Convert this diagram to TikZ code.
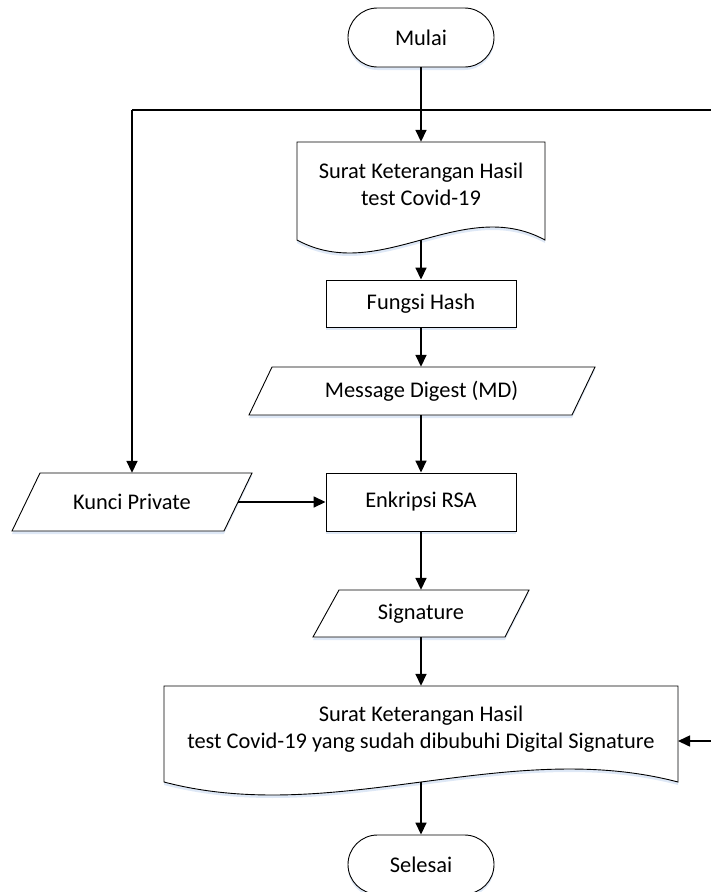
\documentclass[tikz,border=0pt]{standalone}
\usepackage{fontspec}
\setmainfont{Carlito}
\usetikzlibrary{arrows.meta,shadows}
\definecolor{shadowblue}{RGB}{222,232,246}
\begin{document}
\begin{tikzpicture}[x=1pt,y=-1pt,
  shp/.style={draw, line width=0.9pt, fill=white, line join=miter,
    drop shadow={shadow xshift=0pt, shadow yshift=-3pt, fill=shadowblue, opacity=1}},
  conn/.style={line width=1.6pt},
  arr/.style={conn, -{Triangle[length=12pt,width=11pt]}},
  txt/.style={font=\fontsize{22.4}{26.5}\selectfont, align=center, inner sep=0pt},
  term/.style={shp, txt, rounded corners=29.5pt, minimum width=146pt, minimum height=59pt},
  proc/.style={shp, txt, minimum width=190pt},
  lbl/.style={txt, rectangle}]
\useasboundingbox (0,0) rectangle (711,892);

% shapes drawn directly
\draw[shp] (297,142) -- (545,142) -- (545,240) .. controls (462,195) and (380,285) .. (297,240) -- cycle;
\draw[shp] (272,367) -- (595,367) -- (572,415) -- (249,415) -- cycle;
\draw[shp] (40,473) -- (252,473) -- (224,531) -- (12,531) -- cycle;
\draw[shp] (339,590) -- (529,590) -- (505,637) -- (313,637) -- cycle;
\draw[shp] (164,686) -- (678,686) -- (678,782) .. controls (507,737) and (335,827) .. (164,782) -- cycle;

% nodes
\node[term] (start) at (421,37.5) {Mulai};
\node[lbl, minimum width=248pt, minimum height=85pt] (d1) at (421,184.5) {Surat Keterangan Hasil\\test Covid-19};
\node[proc, minimum height=47pt] (fh) at (421,303.5) {Fungsi Hash};
\node[lbl, minimum width=323pt, minimum height=48pt] (md) at (421.5,391) {Message Digest (MD)};
\node[lbl, minimum width=212pt, minimum height=58pt] (kp) at (132,502) {Kunci Private};
\node[proc, minimum height=58pt] (enk) at (421,502) {Enkripsi RSA};
\node[lbl, minimum width=191pt, minimum height=47pt] (sig) at (421,613.5) {Signature};
\node[lbl, minimum width=514pt, minimum height=86pt] (d2) at (421,729) {Surat Keterangan Hasil\\test Covid-19 yang sudah dibubuhi Digital Signature};
\node[term] (stop) at (421,864.5) {Selesai};

% helper coordinates
\coordinate (d1b) at (421,240);
\coordinate (d2b) at (421,782);
\coordinate (jl) at (132,110);
\coordinate (jr) at (726,110);
\coordinate (jd) at (726,741);
\coordinate (d2e) at (678,741);

% connectors
\draw[arr] (start.south) -- (d1.north);
\draw[arr] (d1b) -- (fh.north);
\draw[arr] (fh.south) -- (md.north -| fh.south);
\draw[arr] (md.south -| enk.north) -- (enk.north);
\draw[arr] (kp.east) -- (enk.west);
\draw[arr] (enk.south) -- (sig.north);
\draw[arr] (sig.south) -- (d2.north);
\draw[arr] (d2b) -- (stop.north);
\draw[arr] (jl) -- (jr) -- (jd) -- (d2e);
\draw[arr] (jl) -- (kp.north);
\end{tikzpicture}
\end{document}
